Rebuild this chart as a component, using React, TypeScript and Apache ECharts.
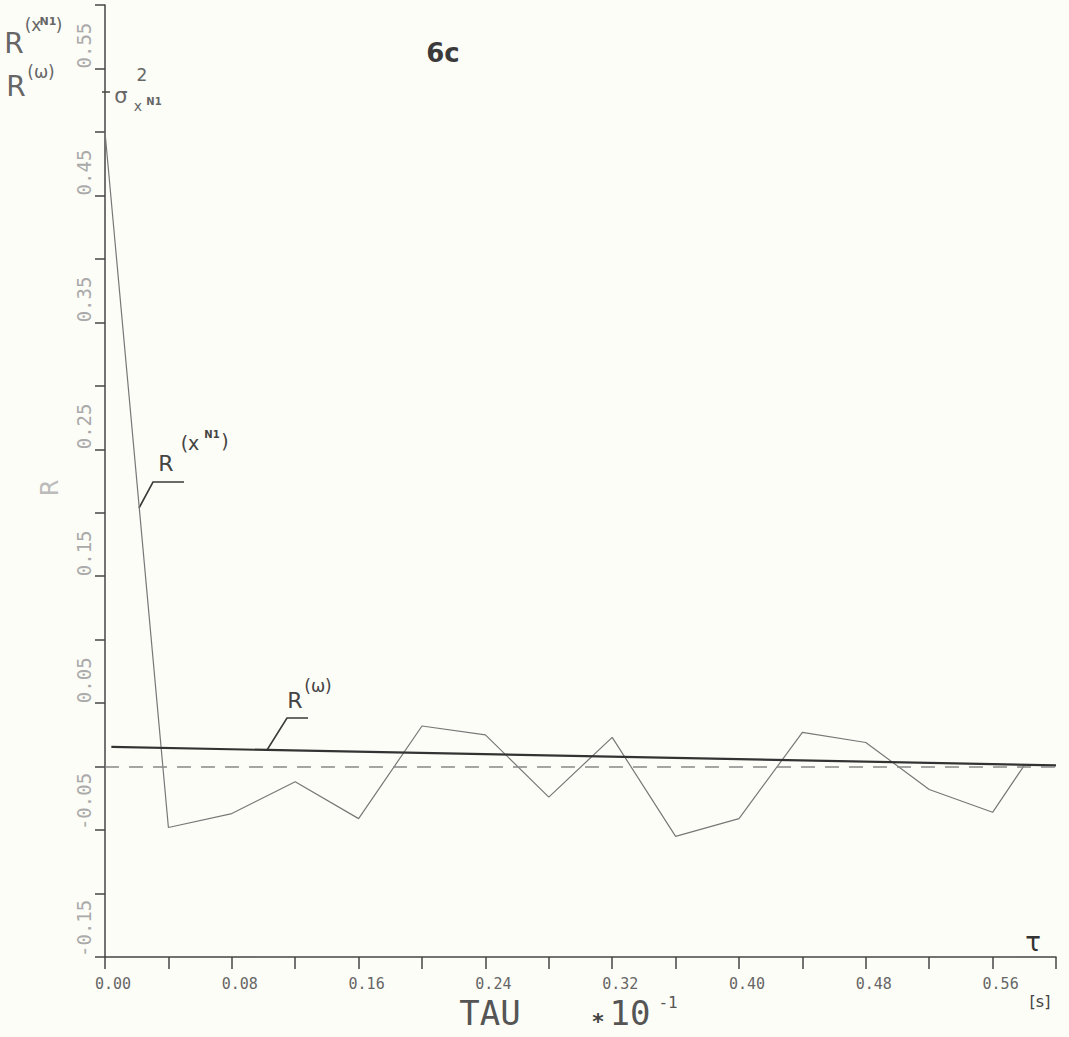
import React, { useEffect, useRef } from "react";
import * as echarts from "echarts";

// Lag tau (x 10^-1 s) at which the sampled autocorrelation R^(xN1) was evaluated
const tauValues = [0, 0.04, 0.08, 0.12, 0.16, 0.2, 0.24, 0.28, 0.32, 0.36, 0.4, 0.44, 0.48, 0.52, 0.56, 0.58];
// Sampled autocorrelation R^(xN1)
const rxn1Values = [0.5, -0.048, -0.037, -0.012, -0.041, 0.032, 0.025, -0.024, 0.023, -0.055, -0.041, 0.027, 0.019, -0.018, -0.036, 0.001];
// Model autocorrelation R^(omega)
const omegaTau = [0.004, 0.6];
const omegaValues = [0.0155, 0.001];
// Tick labels
const xTickLabels = ["0.00", "0.08", "0.16", "0.24", "0.32", "0.40", "0.48", "0.56"];
const yTickLabels = ["-0.15", "-0.05", "0.05", "0.15", "0.25", "0.35", "0.45", "0.55"];

export default function App() {
  const ref = useRef<HTMLDivElement>(null);

  useEffect(() => {
    if (!ref.current) return;
    const chart = echarts.init(ref.current, null, { renderer: "svg" });

    const txt = (text: string, x: number, y: number, size: number, fill: string, extra: any = {}) => ({
      type: "text",
      x,
      y,
      rotation: extra.rotation || 0,
      silent: true,
      style: {
        text,
        fontSize: size,
        fontFamily: extra.family || "DejaVu Sans",
        fontWeight: extra.weight || "normal",
        fill,
        align: "center",
        verticalAlign: "middle",
      },
    });

    const leader = (pts: number[][]) => ({
      type: "polyline",
      silent: true,
      shape: { points: pts },
      style: { stroke: "#3a3a3a", lineWidth: 1.6, fill: "none" },
    });

    chart.setOption({
      animation: false,
      backgroundColor: "#fdfdf7",
      grid: { left: 105, right: 13, top: 5, bottom: 80 },
      xAxis: {
        type: "value",
        min: 0,
        max: 0.6,
        interval: 0.04,
        axisLine: { show: true, onZero: false, lineStyle: { color: "#444", width: 1.5 } },
        axisTick: { show: true, inside: false, length: 12, lineStyle: { color: "#444", width: 1.5 } },
        splitLine: { show: false },
        axisLabel: {
          margin: 19,
          padding: [0, 0, 0, 16],
          color: "#666",
          fontSize: 15,
          fontFamily: "DejaVu Sans Mono",
          showMaxLabel: true,
          formatter: (v: number) => {
            const k = Math.round(v / 0.04);
            return k % 2 === 0 && k / 2 < xTickLabels.length ? xTickLabels[k / 2] : "";
          },
        },
      },
      yAxis: {
        type: "value",
        min: -0.15,
        max: 0.6,
        interval: 0.05,
        axisLine: { show: true, onZero: false, lineStyle: { color: "#444", width: 1.5 } },
        axisTick: { show: true, inside: false, length: 10, lineStyle: { color: "#444", width: 1.5 } },
        splitLine: { show: false },
        axisLabel: {
          margin: 21,
          rotate: 90,
          align: "left",
          verticalAlign: "middle",
          color: "#aaa",
          fontSize: 19,
          fontFamily: "DejaVu Sans Mono",
          formatter: (v: number) => {
            const k = Math.round((v + 0.15) / 0.05);
            return k % 2 === 0 && k / 2 < yTickLabels.length ? yTickLabels[k / 2] : "";
          },
        },
      },
      series: [
        {
          name: "R(xN1)",
          type: "line",
          data: tauValues.map((t, i) => [t, rxn1Values[i]]),
          symbol: "none",
          lineStyle: { color: "#777", width: 1.2 },
          markLine: {
            silent: true,
            symbol: "none",
            label: { show: false },
            lineStyle: { color: "#888", type: [14, 10], width: 1.5 },
            data: [{ yAxis: 0 }],
          },
          z: 3,
        },
        {
          name: "R(omega)",
          type: "line",
          data: omegaTau.map((t, i) => [t, omegaValues[i]]),
          symbol: "none",
          lineStyle: { color: "#333", width: 2.2 },
          z: 4,
        },
      ],
      graphic: [
        txt("6c", 443, 53, 26, "#3a3a3a", { weight: "bold" }),
        // top-left legend-like labels
        txt("R", 14, 43, 28, "#666"),
        txt("(x", 33, 25, 17, "#666"),
        txt("N1", 48, 21, 11, "#666", { weight: "bold" }),
        txt(")", 59, 25, 17, "#666"),
        txt("R", 16, 86, 28, "#666"),
        txt("(ω)", 41, 72, 17, "#666"),
        // sigma^2 marker
        {
          type: "line",
          silent: true,
          shape: { x1: 102, y1: 92, x2: 110, y2: 92 },
          style: { stroke: "#444", lineWidth: 1.5 },
        },
        txt("σ", 121, 96, 21, "#666"),
        txt("2", 142, 75, 17, "#666"),
        txt("x", 138, 106, 14, "#666"),
        txt("N1", 154, 101, 10, "#666", { weight: "bold" }),
        // R(xN1) annotation
        leader([[139, 508], [153, 482], [184, 482]]),
        txt("R", 166, 463, 22, "#444"),
        txt("(x", 190, 443, 19, "#444"),
        txt("N1", 212, 434, 10, "#444", { weight: "bold" }),
        txt(")", 225, 441, 19, "#444"),
        // R(omega) annotation
        leader([[267, 750], [287, 718], [308, 718]]),
        txt("R", 295, 700, 22, "#444"),
        txt("(ω)", 318, 686, 17, "#444"),
        // axis names
        txt("R", 50, 488, 24, "#bbb", { rotation: Math.PI / 2 }),
        txt("τ", 1033, 942, 26, "#333"),
        txt("TAU", 490, 1013, 34, "#555", { family: "DejaVu Sans Mono" }),
        txt("*", 598, 1021, 22, "#444", { weight: "bold" }),
        txt("10", 630, 1013, 34, "#555", { family: "DejaVu Sans Mono" }),
        txt("-1", 668, 1002, 16, "#555", { family: "DejaVu Sans Mono" }),
        txt("[s]", 1040, 1001, 16, "#444"),
      ],
    });

    return () => chart.dispose();
  }, []);

  return (
    <div
      ref={ref}
      style={{ position: "fixed", left: 0, top: 0, width: 1069, height: 1037 }}
    />
  );
}
